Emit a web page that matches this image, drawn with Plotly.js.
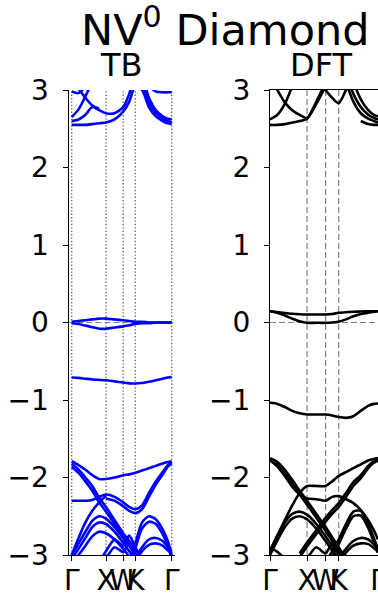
<!DOCTYPE html>
<html>
<head>
<meta charset="utf-8">
<script src="https://cdn.plot.ly/plotly-3.0.1.min.js"></script>
<style>
html,body{margin:0;padding:0;background:#fff;}
#chart{width:378px;height:598px;}
</style>
</head>
<body>
<div id="chart"></div>
<script>
// k-path positions (Γ–X–W–K–Γ, units of 2π/a)
const kPath = [0, 0.2, 0.4, 0.6, 0.8, 1.0, 1.25, 1.5, 1.677, 1.854, 2.05, 2.25, 2.45, 2.65, 2.8, 2.914];
const symK = [0, 1.0, 1.5, 1.854, 2.914];
const symLabels = ['Γ', 'X', 'W', 'K', 'Γ'];
const N = null;

// ---------- TB bands (eV) ----------
const tbC1 = [2.55, 2.55, 2.55, 2.56, 2.57, 2.58, 2.62, 2.72, 2.85, 3.05, 3.0, 2.78, 2.66, 2.6, 2.57, 2.56];
const tbC2 = [2.60, 2.62, 2.68, 2.78, 2.74, 2.70, 2.70, 2.78, 2.95, 3.2, 3.15, 2.9, 2.74, 2.66, 2.63, 2.62];
const tbC3 = [2.65, 2.75, 2.92, 3.1, N, N, N, N, N, N, N, N, N, N, N, N];
const tbC4 = [3.2, 3.02, 2.9, 2.8, 2.76, N, N, N, N, N, N, N, N, N, N, N];
const tbC5 = [2.98, 2.96, 3.05, N, N, N, N, N, N, N, N, 3.05, 2.98, 2.97, 2.97, 2.97];
const tbC6 = [N, N, N, N, N, N, N, N, N, N, 3.1, 2.84, 2.7, 2.63, 2.6, 2.58];
const tbG1 = [0.01, 0.02, 0.03, 0.04, 0.05, 0.05, 0.04, 0.03, 0.02, 0.01, 0.01, 0.0, 0.0, 0.0, 0.0, 0.0];
const tbG2 = [-0.01, -0.02, -0.04, -0.06, -0.08, -0.08, -0.065, -0.05, -0.035, -0.02, -0.01, -0.01, 0.0, 0.0, 0.0, 0.0];
const tbDeep = [-0.71, -0.715, -0.725, -0.735, -0.74, -0.745, -0.76, -0.775, -0.785, -0.787, -0.78, -0.765, -0.745, -0.725, -0.71, -0.705];
const tbV1 = [-1.79, -1.84, -1.9, -1.97, -2.02, -2.02, -2.0, -1.97, -1.96, -1.94, -1.91, -1.88, -1.85, -1.82, -1.8, -1.79];
const tbV2 = [-2.3, -2.3, -2.3, -2.29, -2.25, -2.22, -2.25, -2.32, -2.38, -2.41, -2.36, -2.2, -2.05, -1.93, -1.84, -1.8];
const tbV2b = [N, N, N, N, N, -2.27, -2.3, -2.37, -2.43, -2.46, -2.41, -2.25, -2.09, -1.96, -1.86, -1.82];
const tbV3 = [-1.82, -1.9, -2.0, -2.11, -2.26, -2.38, -2.55, -2.72, -2.82, -2.93, -3.05, N, N, N, N, N];
const tbV3b = [-1.86, -1.94, -2.05, -2.17, -2.32, -2.44, -2.6, -2.76, -2.87, -2.98, -3.1, N, N, N, N, N];
const tbV4 = [-3.0, -2.85, -2.7, -2.56, -2.5, -2.53, -2.64, -2.78, -2.88, -3.0, N, N, N, N, N, N];
const tbV4b = [-3.05, -2.92, -2.78, -2.64, -2.58, -2.6, -2.7, -2.84, -2.95, -3.05, N, N, N, N, N, N];
const tbV4c = [-3.1, -3.0, -2.88, -2.76, -2.7, -2.72, -2.8, -2.92, -3.02, N, N, N, N, N, N, N];
const tbV5 = [-3.0, -2.78, -2.58, -2.43, -2.32, -2.24, N, N, N, N, N, N, N, N, N, N];
const tbV6 = [N, N, N, N, N, N, N, N, -3.1, -2.85, -2.58, -2.5, -2.54, -2.67, -2.82, -3.0];
const tbV6b = [N, N, N, N, N, N, N, N, N, -2.92, -2.66, -2.57, -2.6, -2.73, -2.88, -3.05];
const tbV7 = [N, N, N, N, N, N, N, N, N, -3.05, -2.9, -2.8, -2.78, -2.82, -2.9, -2.95];
const tbV7b = [N, N, N, N, N, N, N, N, N, -3.1, -2.95, -2.87, -2.85, -2.88, -2.94, -2.98];
const tbV8 = [N, N, N, N, -3.1, -2.95, -2.8, -2.88, -2.75, -2.9, -3.05, N, N, N, N, N];
const tbV9 = [N, N, N, N, N, -3.05, -2.9, -2.96, -2.84, -3.0, N, N, N, N, N, N];

// ---------- DFT bands (eV) ----------
const dfC1 = [2.55, 2.55, 2.56, 2.58, 2.6, 2.63, 2.82, 3.05, N, N, 3.1, 2.85, 2.7, 2.63, 2.6, 2.58];
const dfC2 = [N, N, N, N, N, N, N, N, N, N, 3.2, 2.95, 2.78, 2.68, 2.64, 2.62];
const dfC3 = [N, N, N, N, N, N, N, N, N, N, N, 3.1, 2.88, 2.74, 2.68, 2.66];
const dfC4 = [2.62, 2.68, 2.82, 3.05, N, N, N, N, N, N, N, N, N, N, N, N];
const dfC5 = [3.2, 3.0, 2.84, 2.74, 2.68, 2.64, 2.85, 3.1, N, N, N, N, N, N, N, N];
const dfC6 = [N, N, N, N, N, N, 3.2, 3.0, 2.9, 2.83, 3.0, 3.2, N, N, N, N];
const dfC7 = [N, N, N, N, N, N, N, N, N, N, N, N, 2.6, 2.56, 2.55, 2.55];
const dfG1 = [0.146, 0.135, 0.122, 0.112, 0.106, 0.103, 0.103, 0.103, 0.11, 0.125, 0.133, 0.138, 0.142, 0.145, 0.146, 0.146];
const dfG2 = [0.146, 0.125, 0.09, 0.05, 0.015, -0.004, -0.004, -0.004, 0.0, 0.01, 0.04, 0.08, 0.11, 0.125, 0.14, 0.146];
const dfDeep = [-1.036, -1.05, -1.09, -1.14, -1.17, -1.187, -1.187, -1.187, -1.2, -1.22, -1.23, -1.21, -1.14, -1.075, -1.05, -1.045];
const dfV1 = [-2.95, -2.75, -2.55, -2.36, -2.2, -2.11, -2.11, -2.11, -2.05, -1.98, -1.93, -1.88, -1.83, -1.78, -1.76, -1.75];
const dfV2 = [-1.75, -1.8, -1.9, -2.03, -2.17, -2.3, -2.47, -2.64, -2.77, -2.9, -3.05, N, N, N, N, N];
const dfV2b = [-1.78, -1.84, -1.95, -2.08, -2.22, -2.35, -2.52, -2.69, -2.82, -2.95, -3.1, N, N, N, N, N];
const dfV3 = [N, N, N, N, -2.98, -2.84, -2.68, -2.52, -2.42, -2.33, -2.2, -2.06, -1.97, -1.85, -1.79, -1.76];
const dfV3b = [N, N, N, N, -3.03, -2.89, -2.73, -2.57, -2.47, -2.38, -2.25, -2.11, -2.01, -1.88, -1.81, -1.78];
const dfV4 = [-1.78, -1.86, -1.98, -2.12, -2.22, -2.27, -2.28, -2.3, -2.25, -2.24, -2.28, -2.33, -2.42, -2.55, -2.68, -2.8];
const dfV5 = [-2.95, -2.75, -2.58, -2.47, -2.44, -2.48, -2.6, -2.76, -2.88, -3.0, N, N, N, N, N, N];
const dfV5b = [-3.0, -2.81, -2.64, -2.53, -2.5, -2.54, -2.66, -2.82, -2.94, -3.06, N, N, N, N, N, N];
const dfV6 = [N, N, N, N, N, N, N, -3.1, -2.95, -2.8, -2.6, -2.44, -2.43, -2.6, -2.78, -2.92];
const dfV6b = [N, N, N, N, N, N, N, N, -3.02, -2.86, -2.66, -2.5, -2.49, -2.65, -2.83, -2.97];
const dfV7 = [N, N, N, N, N, N, N, N, N, -3.05, -2.92, -2.82, -2.78, -2.8, -2.86, -2.92];
const dfV7b = [N, N, N, N, N, N, N, N, N, -3.1, -2.97, -2.88, -2.85, -2.86, -2.91, -2.96];
const dfV8 = [-2.9, -2.96, -3.05, N, N, -3.05, -2.9, -2.98, -2.85, -3.0, N, N, N, N, N, N];

const tbBands = [tbC1, tbC2, tbC3, tbC4, tbC5, tbC6, tbG1, tbG2, tbDeep, tbV1, tbV2, tbV2b, tbV3, tbV3b,
                 tbV4, tbV4b, tbV4c, tbV5, tbV6, tbV6b, tbV7, tbV7b, tbV8, tbV9];
const dfBands = [dfC1, dfC2, dfC3, dfC4, dfC5, dfC6, dfC7, dfG1, dfG2, dfDeep, dfV1, dfV2, dfV2b, dfV3, dfV3b,
                 dfV4, dfV5, dfV5b, dfV6, dfV6b, dfV7, dfV7b, dfV8];

const traces = [];
tbBands.forEach(b => traces.push({
  x: kPath, y: b, xaxis: 'x', yaxis: 'y', mode: 'lines', connectgaps: false,
  line: {color: '#0000ff', width: 2.6, shape: 'spline', smoothing: 0.7}, hoverinfo: 'skip'
}));
dfBands.forEach(b => traces.push({
  x: kPath, y: b, xaxis: 'x2', yaxis: 'y2', mode: 'lines', connectgaps: false,
  line: {color: '#000000', width: 2.6, shape: 'spline', smoothing: 0.7}, hoverinfo: 'skip'
}));

const shapes = [];
symK.forEach(k => shapes.push({type: 'line', xref: 'x', yref: 'y domain', x0: k, x1: k, y0: 0, y1: 1,
  line: {color: '#707070', width: 1.4, dash: '1.4px,2px'}, layer: 'below'}));
shapes.push({type: 'line', xref: 'x domain', yref: 'y', x0: 0, x1: 1, y0: 0, y1: 0,
  line: {color: '#808080', width: 1.2, dash: '6px,3px'}, layer: 'below'});
symK.slice(1, 4).forEach(k => shapes.push({type: 'line', xref: 'x2', yref: 'y2 domain', x0: k, x1: k, y0: 0, y1: 1,
  line: {color: '#808080', width: 1.2, dash: '6px,3px'}, layer: 'below'}));
shapes.push({type: 'line', xref: 'x2 domain', yref: 'y2', x0: 0, x1: 1, y0: 0, y1: 0,
  line: {color: '#808080', width: 1.2, dash: '6px,3px'}, layer: 'below'});

const font = 'DejaVu Sans, sans-serif';
const xBase = {tickvals: symK, ticktext: symLabels, ticks: 'outside', ticklen: 5, tickwidth: 1, tickcolor: '#000',
  showline: true, linecolor: '#000', linewidth: 1, showgrid: false, zeroline: false, fixedrange: true,
  tickangle: 0, ticklabelstandoff: -5, ticklabeloverflow: 'allow',
  tickfont: {family: font, size: 28, color: '#000'}};
const yBase = {range: [-3, 3], tick0: 0, dtick: 1, ticks: 'outside', ticklen: 5, tickwidth: 1, tickcolor: '#000',
  showline: true, linecolor: '#000', linewidth: 1, showgrid: false, zeroline: false, fixedrange: true,
  ticklabelstandoff: 8,
  tickfont: {family: font, size: 28, color: '#000'}};

const layout = {
  width: 378, height: 598, autosize: false,
  margin: {l: 0, r: 0, t: 90, b: 43},
  paper_bgcolor: '#fff', plot_bgcolor: '#fff', showlegend: false,
  font: {family: font, color: '#000'},
  xaxis: Object.assign({}, xBase, {domain: [68.5 / 378, 175 / 378], range: [-0.093, 3.01], anchor: 'y'}),
  yaxis: Object.assign({}, yBase, {domain: [0, 1], anchor: 'x'}),
  xaxis2: Object.assign({}, xBase, {domain: [270 / 378, 1], range: [0, 2.914], anchor: 'y2', mirror: true}),
  yaxis2: Object.assign({}, yBase, {domain: [0, 1], anchor: 'x2'}),
  shapes: shapes,
  annotations: [
    {text: 'NV<sup>0</sup> Diamond', xref: 'paper', yref: 'paper', x: 225 / 378, y: 1.136, xanchor: 'center', yanchor: 'middle',
     showarrow: false, font: {family: font, size: 43, color: '#000'}},
    {text: 'TB', xref: 'paper', yref: 'paper', x: 121.75 / 378, y: 1.054, xanchor: 'center', yanchor: 'middle',
     showarrow: false, font: {family: font, size: 32, color: '#000'}},
    {text: 'DFT', xref: 'paper', yref: 'paper', x: 321 / 378, y: 1.054, xanchor: 'center', yanchor: 'middle',
     showarrow: false, font: {family: font, size: 32, color: '#000'}}
  ]
};

Plotly.newPlot('chart', traces, layout, {displayModeBar: false, staticPlot: true});
</script>
</body>
</html>
